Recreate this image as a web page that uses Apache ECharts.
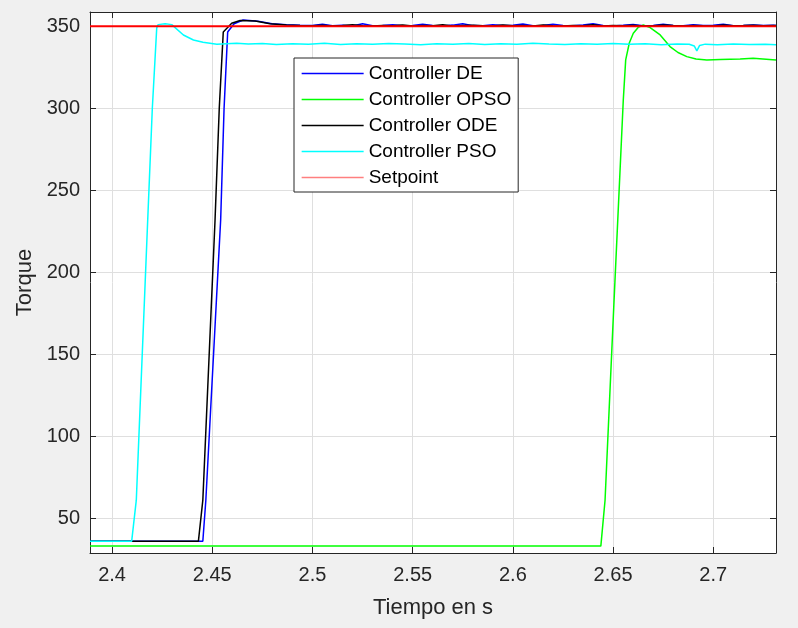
<!DOCTYPE html>
<html>
<head>
<meta charset="utf-8">
<script src="https://cdn.jsdelivr.net/npm/echarts@6/dist/echarts.min.js"></script>
<style>
html,body{margin:0;padding:0;background:#f0f0f0;}
#chart{width:798px;height:628px;}
</style>
</head>
<body>
<div id="chart"></div>
<script>
// ---- Data ----
const xTicks = [2.4, 2.45, 2.5, 2.55, 2.6, 2.65, 2.7];
const yTicks = [50, 100, 150, 200, 250, 300, 350];

const seriesNames = ['Controller DE', 'Controller OPSO', 'Controller ODE', 'Controller PSO', 'Setpoint'];

const tailT = [2.5, 2.505, 2.51, 2.515, 2.52, 2.525, 2.53, 2.535, 2.54, 2.545,
  2.55, 2.555, 2.56, 2.565, 2.57, 2.575, 2.58, 2.585, 2.59, 2.595,
  2.6, 2.605, 2.61, 2.615, 2.62, 2.625, 2.63, 2.635, 2.64, 2.645,
  2.65, 2.655, 2.66, 2.665, 2.67, 2.675, 2.68, 2.685, 2.69, 2.695,
  2.7, 2.705, 2.71, 2.715, 2.72, 2.725, 2.73, 2.7313];

const deHeadT = [2.389, 2.4453, 2.4468, 2.4542, 2.4559, 2.4577, 2.4609, 2.4654, 2.4729, 2.4798, 2.4870, 2.4938];
const deHeadV = [36, 36, 61, 232, 300, 346.5, 351.5, 353.8, 353.0, 351.5, 350.9, 350.6];
const deTailV = [350.4, 351.2, 350.3, 350.6, 350.2, 351.5, 350.3, 350.5, 350.9, 350.3,
  350.4, 351.3, 350.5, 350.2, 350.7, 351.6, 350.4, 350.3, 351.0, 350.4,
  350.6, 351.4, 350.3, 350.5, 351.2, 350.4, 350.3, 350.8, 351.5, 350.4,
  350.2, 350.6, 351.1, 350.3, 350.5, 351.3, 350.4, 350.3, 350.9, 350.4,
  350.6, 351.2, 350.3, 350.5, 350.8, 350.4, 350.6, 350.5];

const odeHeadT = [2.389, 2.4431, 2.4453, 2.4514, 2.4535, 2.4555, 2.4597, 2.4639, 2.4714, 2.4788, 2.4870, 2.4938];
const odeHeadV = [36, 36, 61, 232, 300, 346.5, 351.8, 353.5, 353.2, 351.5, 350.8, 350.5];
const odeTailV = [350.3, 350.6, 350.2, 350.4, 351.0, 350.3, 350.2, 350.5, 350.3, 350.8,
  350.2, 350.4, 350.3, 350.9, 350.2, 350.4, 350.6, 350.3, 350.2, 350.7,
  350.3, 350.4, 350.2, 350.8, 350.3, 350.2, 350.5, 350.3, 350.9, 350.2,
  350.4, 350.3, 350.6, 350.2, 350.3, 350.8, 350.4, 350.2, 350.5, 350.3,
  350.2, 350.7, 350.3, 350.4, 350.6, 350.3, 350.5, 350.4];

const opsoT = [2.389, 2.6439, 2.6460, 2.6505, 2.6551, 2.6563, 2.6581, 2.6601, 2.6625, 2.6651,
  2.6685, 2.6735, 2.6784, 2.6824, 2.6868, 2.6914, 2.6968, 2.7034, 2.7134, 2.7199, 2.7313];
const opsoV = [33, 33, 61, 183, 305, 329.5, 339.8, 345.7, 349.3, 350.8,
  349.2, 344.7, 337.6, 334.0, 331.5, 330.0, 329.5, 329.7, 330.0, 330.5, 329.5];

const psoT = [2.389, 2.4098, 2.4121, 2.4178, 2.4201, 2.4223, 2.4230, 2.4265, 2.4298, 2.4356,
  2.4406, 2.4454, 2.4523, 2.4570, 2.4622, 2.468, 2.475, 2.482, 2.49, 2.498,
  2.506, 2.514, 2.522, 2.53, 2.538, 2.546, 2.554, 2.562, 2.57, 2.578,
  2.586, 2.594, 2.602, 2.61, 2.618, 2.626, 2.634, 2.642, 2.65, 2.658,
  2.666, 2.674, 2.682, 2.688, 2.6905, 2.6918, 2.6932, 2.696, 2.702, 2.71,
  2.718, 2.726, 2.7313];
const psoV = [36, 36, 61, 232, 300, 349, 351, 351.5, 351, 344.7,
  341.6, 340.2, 339.0, 339.3, 339.6, 339.2, 339.5, 338.9, 339.4, 339.1,
  339.6, 338.9, 339.3, 339.0, 339.5, 339.2, 338.8, 339.4, 339.1, 339.5,
  338.9, 339.3, 339.0, 339.6, 339.2, 338.9, 339.4, 339.1, 339.5, 339.0,
  339.3, 338.8, 339.2, 339.0, 338.0, 335.0, 338.3, 339.1, 338.8, 339.2,
  338.9, 339.1, 338.8];

const setT = [2.389, 2.7313];
const setV = [350, 350];

// ---- Build ----
const pairs = (t, v) => t.map((x, i) => [x, v[i]]);
const deData = pairs(deHeadT.concat(tailT), deHeadV.concat(deTailV));
const odeData = pairs(odeHeadT.concat(tailT), odeHeadV.concat(odeTailV));
const opsoData = pairs(opsoT, opsoV);
const psoData = pairs(psoT, psoV);
const setData = pairs(setT, setV);

const AX = '#262626';
const FONT = '"Liberation Sans", Arial, sans-serif';

const chart = echarts.init(document.getElementById('chart'));
const xMin = 2.389, xMax = 2.7313, yMin = 28.8, yMax = 358.7;

function mkLine(name, data, color, w) {
  return {
    name, type: 'line', data, symbol: 'none', showSymbol: false,
    lineStyle: { color, width: w }, itemStyle: { color },
    emphasis: { disabled: true }, silent: true, animation: false
  };
}

chart.setOption({
  animation: false,
  backgroundColor: '#f0f0f0',
  grid: { left: 90, right: 22, top: 12, bottom: 75, show: true, backgroundColor: '#ffffff', borderWidth: 0, containLabel: false },
  legend: {
    orient: 'vertical', left: 294, top: 58, padding: [6, 7, 5, 7],
    itemWidth: 62, itemHeight: 19, itemGap: 7,
    backgroundColor: '#ffffff', borderColor: AX, borderWidth: 1, borderRadius: 0,
    textStyle: { fontFamily: FONT, fontSize: 19, color: '#000' },
    itemStyle: { opacity: 0, borderWidth: 0 },
    lineStyle: { width: 1.3 },
    data: seriesNames.map(n => n === 'Setpoint' ? { name: n, lineStyle: { width: 1.3, opacity: 0.5 } } : n),
    selectedMode: false
  },
  xAxis: [{
    type: 'value', min: xMin, max: xMax, position: 'bottom',
    name: 'Tiempo en s', nameLocation: 'middle', nameGap: 44,
    nameTextStyle: { fontFamily: FONT, fontSize: 22, color: AX },
    axisLine: { show: true, onZero: false, lineStyle: { color: AX, width: 1 } },
    axisTick: { show: true, inside: true, length: 6, customValues: xTicks, lineStyle: { color: AX } },
    axisLabel: { customValues: xTicks, fontFamily: FONT, fontSize: 20, color: AX, margin: 12, formatter: v => String(v) },
    splitLine: { show: true, lineStyle: { color: '#dfdfdf', width: 1 } }
  }, {
    type: 'value', min: xMin, max: xMax, position: 'top',
    axisLine: { show: true, onZero: false, lineStyle: { color: AX, width: 1 } },
    axisTick: { show: true, inside: true, length: 6, customValues: xTicks, lineStyle: { color: AX } },
    axisLabel: { show: false }, splitLine: { show: false }
  }],
  yAxis: [{
    type: 'value', min: yMin, max: yMax, position: 'left',
    name: 'Torque', nameLocation: 'middle', nameGap: 53, nameRotate: 90,
    nameTextStyle: { fontFamily: FONT, fontSize: 22, color: AX },
    axisLine: { show: true, onZero: false, lineStyle: { color: AX, width: 1 } },
    axisTick: { show: true, inside: true, length: 6, customValues: yTicks, lineStyle: { color: AX } },
    axisLabel: { customValues: yTicks, fontFamily: FONT, fontSize: 20, color: AX, margin: 10 },
    splitLine: { show: true, lineStyle: { color: '#dfdfdf', width: 1 } }
  }, {
    type: 'value', min: yMin, max: yMax, position: 'right',
    axisLine: { show: true, onZero: false, lineStyle: { color: AX, width: 1 } },
    axisTick: { show: true, inside: true, length: 6, customValues: yTicks, lineStyle: { color: AX } },
    axisLabel: { show: false }, splitLine: { show: false }
  }],
  series: [
    mkLine(seriesNames[0], deData, '#0000ff', 1.5),
    mkLine(seriesNames[1], opsoData, '#00ff00', 1.5),
    mkLine(seriesNames[2], odeData, '#000000', 1.5),
    mkLine(seriesNames[3], psoData, '#00ffff', 1.5),
    mkLine(seriesNames[4], setData, '#ff0000', 2)
  ]
});
</script>
</body>
</html>
